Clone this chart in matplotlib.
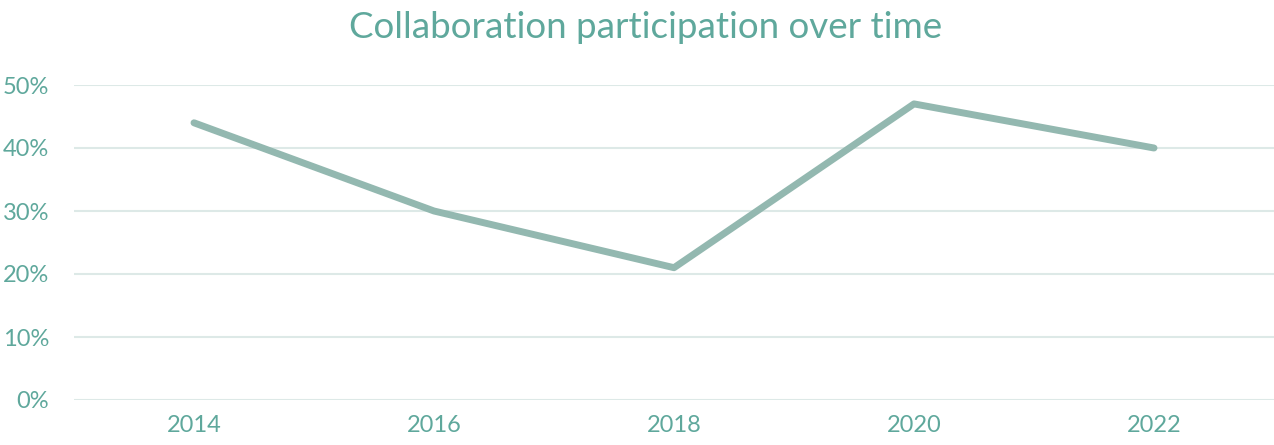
import matplotlib.pyplot as plt
from matplotlib.ticker import PercentFormatter

# data
years = ["2014", "2016", "2018", "2020", "2022"]
participation = [44, 30, 21, 47, 40]
y_ticks = [0, 10, 20, 30, 40, 50]

text_color = "#5fa89c"
line_color = "#93b8b0"
grid_color = "#dde9e7"

plt.rcParams['font.family'] = ['Lato', 'DejaVu Sans']

fig = plt.figure(figsize=(12.74, 4.45), dpi=100)
ax = fig.add_axes([74 / 1274, 1 - 400 / 445, 1200 / 1274, 315 / 445])

x = range(len(years))
ax.plot(x, participation, color=line_color, linewidth=5, solid_capstyle='round')

ax.set_xlim(-0.5, len(years) - 0.5)
ax.set_ylim(0, 50)
ax.set_yticks(y_ticks)
ax.yaxis.set_major_formatter(PercentFormatter(decimals=0))
ax.set_xticks(list(x))
ax.set_xticklabels(years)

ax.grid(axis='y', color=grid_color, linewidth=1.5)
ax.set_axisbelow(True)
for s in ax.spines.values():
    s.set_visible(False)
ax.tick_params(length=0, labelsize=17, labelcolor=text_color)
ax.tick_params(axis='y', pad=18)
ax.tick_params(axis='x', pad=11)

fig.text(646 / 1274, 1 - 28 / 445, "Collaboration participation over time",
         ha='center', va='center', fontsize=26.5, color=text_color)

fig.savefig("out.png", dpi=100)
